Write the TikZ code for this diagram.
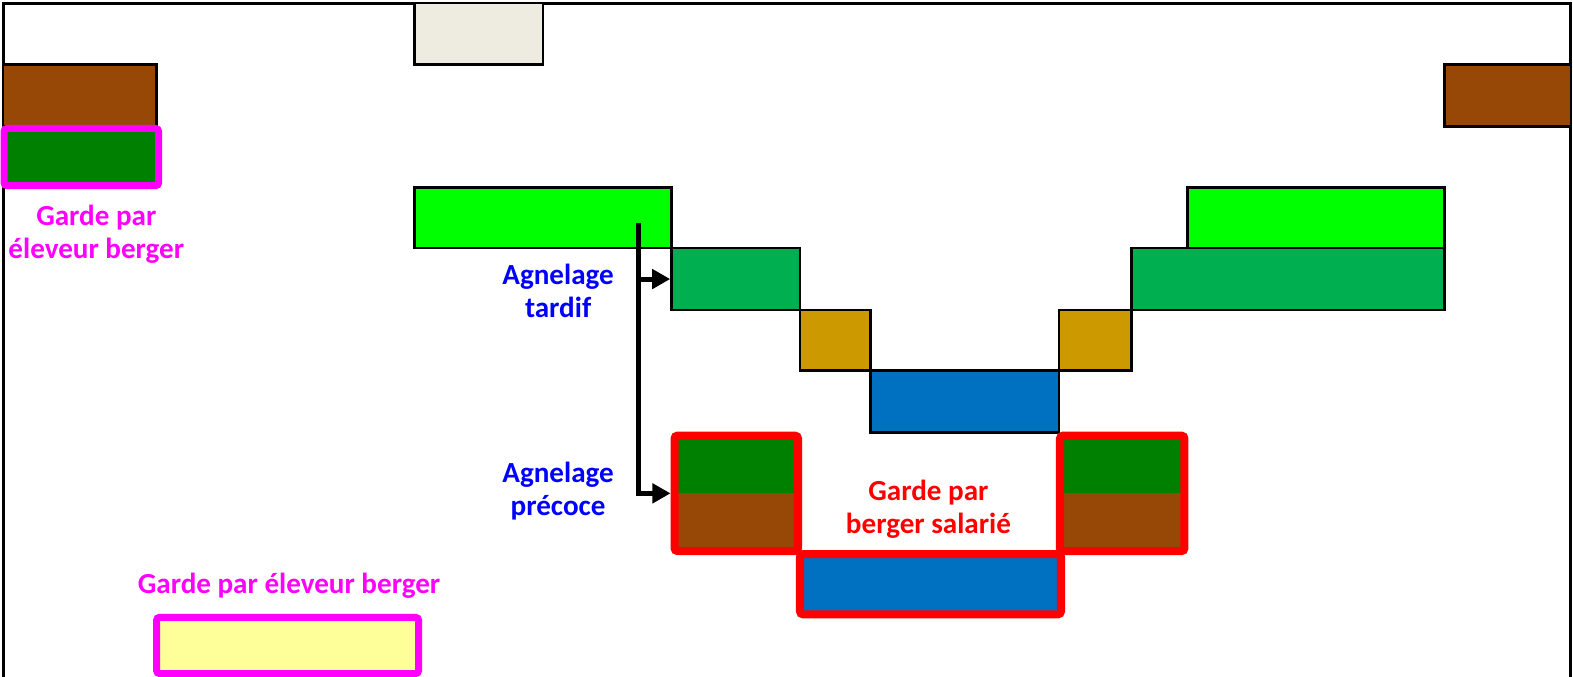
\documentclass[tikz,border=0pt]{standalone}
\usepackage{fontspec}
\setmainfont{Carlito}
\usetikzlibrary{arrows.meta, positioning, fit}

\definecolor{paille}{HTML}{EEECE1}
\definecolor{brun}{HTML}{974806}
\definecolor{vertF}{HTML}{008000}
\definecolor{vertC}{HTML}{00FF00}
\definecolor{vertM}{HTML}{00B050}
\definecolor{ocre}{HTML}{CC9900}
\definecolor{bleuB}{HTML}{0070C0}
\definecolor{jaune}{HTML}{FFFF99}
\definecolor{rose}{HTML}{FF00FF}
\definecolor{bleuT}{HTML}{0000FF}
\definecolor{rouge}{HTML}{FF0000}

\begin{document}
\begin{tikzpicture}[x=0.5pt, y=-0.5pt,
    bar/.style={draw, line width=1.3pt, inner sep=0pt},
    eleveur/.style={draw=rose, line width=3.5pt, rounded corners=1.5pt, inner sep=0pt},
    salarie/.style={draw=rouge, line width=4pt, rounded corners=1.5pt, inner sep=0pt},
    txt/.style={font=\bfseries\fontsize{14.5}{16.5}\selectfont, align=center},
    fleche/.style={line width=2.5pt, -{Triangle[length=9pt,width=9.5pt]}}]
    % cadre
    \draw[line width=1.5pt] (3,676) -- (3,3) -- (1565,3) -- (1565,676);

    % haut
    \node[bar, fill=paille, fit={(413,3) (541,64)}] (paille) {};
    \node[bar, fill=brun, fit={(3,64) (156,126)}] (brunG) {};
    \node[bar, fill=brun, fit={(1439,64) (1565,126)}] (brunD) {};
    \node[eleveur, fill=vertF, fit={(4,128) (158,185)}] (vertG) {};

    % escalier
    \node[bar, fill=vertC, fit={(413,187) (669,247)}] (agnel) {};
    \node[bar, fill=vertM, fit={(669,247) (797,309)}] (tardif) {};
    \node[bar, fill=ocre, fit={(797,309) (867,369)}] (ocreG) {};
    \node[bar, fill=bleuB, fit={(867,369) (1055,431)}] (bleuH) {};
    \node[bar, fill=ocre, fit={(1055,309) (1127,369)}] (ocreD) {};
    \node[bar, fill=vertM, fit={(1127,247) (1439,309)}] (vertMD) {};
    \node[bar, fill=vertC, fit={(1183,187) (1439,247)}] (vertCD) {};

    % garde par berger salarie
    \node[inner sep=0pt, fill=vertF, fit={(672,434) (795,491)}] (precH) {};
    \node[inner sep=0pt, fill=brun, fit={(672,491) (795,549)}] (precB) {};
    \node[inner sep=0pt, fill=vertF, fit={(1056,434) (1180,491)}] (salH) {};
    \node[inner sep=0pt, fill=brun, fit={(1056,491) (1180,549)}] (salB) {};
    \node[salarie, fill=bleuB, fit={(797,552) (1057,612)}] (bleuS) {};
    \node[salarie, fit={(672,434) (795,549)}] (precoce) {};
    \node[salarie, fit={(1056,434) (1180,549)}] (salD) {};

    % garde par eleveur berger
    \node[eleveur, fill=jaune, fit={(156,615) (417,671)}] (jaune) {};

    % textes
    \node[txt, text=rose] (gardeG) at (96,233) {Garde par\\éleveur berger};
    \node[txt, text=rose] (gardeB) at (288,584) {Garde par éleveur berger};
    \node[txt, text=rouge] (gardeS) at (925,507) {Garde par\\berger salarié};
    \node[txt, text=bleuT] (lblT) at (556,290) {Agnelage\\tardif};
    \node[txt, text=bleuT] (lblP) at (556,489) {Agnelage\\précoce};

    % fleches
    \coordinate (depart) at (636,222);
    \draw[fleche] (depart) |- (tardif.west);
    \draw[fleche] (depart) |- (precoce.west);

    \pgfresetboundingbox
    \useasboundingbox (0,0) rectangle (1567.1,673.5);
\end{tikzpicture}
\end{document}
